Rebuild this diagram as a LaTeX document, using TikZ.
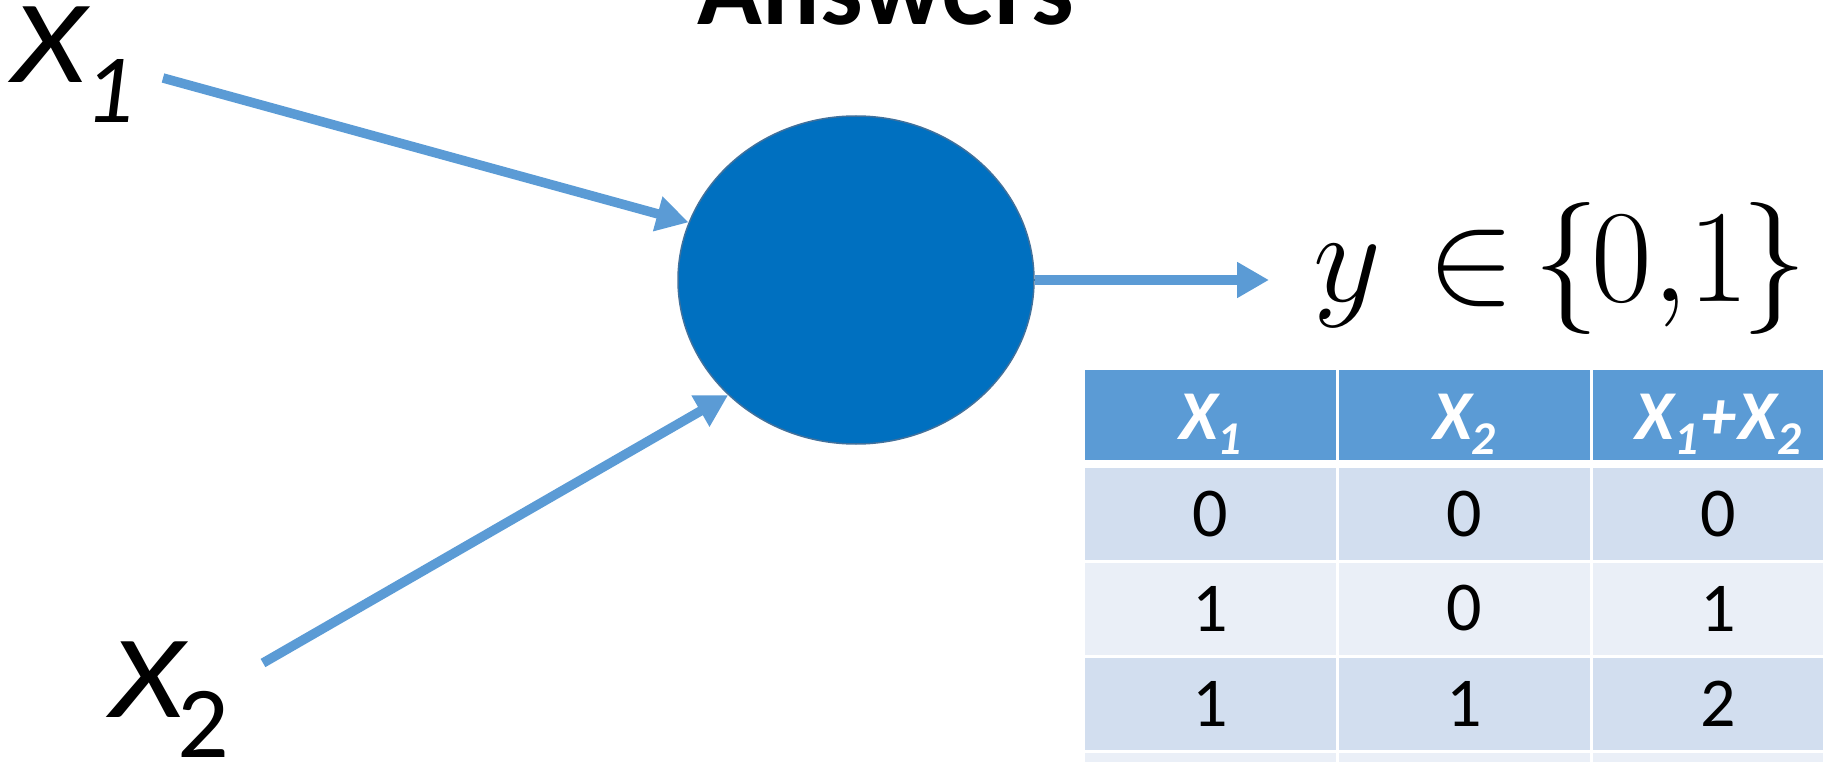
\RequirePackage{fix-cm}
\documentclass[tikz,border=0pt]{standalone}
\usepackage[no-math]{fontspec}
\setmainfont{Carlito}
\usetikzlibrary{arrows.meta,shapes.geometric}
\definecolor{accent}{HTML}{5B9BD5}
\definecolor{nodeblue}{HTML}{0070C0}
\definecolor{nodeedge}{HTML}{41719C}
\definecolor{rowa}{HTML}{D2DEEF}
\definecolor{rowb}{HTML}{EAEFF7}
\newcommand\hsubx[1]{X\raisebox{-15pt}{\fontsize{47}{47}\selectfont #1}}
\newcommand\wideX{\scalebox{1.2}[1]{X}}
\begin{document}
\begin{tikzpicture}[x=1pt,y=-1pt,
  conn/.style={draw=accent, line width=9.5pt, -{Triangle[length=32pt,width=34pt]}},
  cellbox/.style={rectangle, inner sep=0pt, minimum width=251pt, minimum height=92pt},
  headcell/.style={cellbox, fill=accent, minimum height=90pt},
  oddcell/.style={cellbox, fill=rowa, font=\fontsize{70}{70}\selectfont},
  evencell/.style={cellbox, fill=rowb, font=\fontsize{70}{70}\selectfont},
  headtext/.style={text=white, inner sep=0pt, font=\fontsize{70}{70}\selectfont\bfseries\itshape},
  biglabel/.style={anchor=base west, inner sep=0pt, font=\fontsize{118}{118}\selectfont\itshape},
  neuron/.style={ellipse, fill=nodeblue, draw=nodeedge, line width=1.5pt, minimum width=356pt, minimum height=328pt, inner sep=0pt}
]
\useasboundingbox (0,0) rectangle (1823,762);
\clip (0,0) rectangle (1823,762);

% title (cut at top)
\node[anchor=base, inner sep=0pt, font=\fontsize{107}{107}\selectfont\bfseries] (ans) at (886,25) {Answers};

% inputs
\node[biglabel] (x1) at (12,83) {\wideX\kern-1pt\raisebox{-40pt}{\fontsize{98}{98}\selectfont 1}};
\node[biglabel] (x2) at (110,717) {\wideX\kern-6pt\raisebox{-40pt}{\fontsize{102}{102}\selectfont\upshape 2}};
\coordinate (a1s) at (163,78);
\coordinate (a2s) at (263,663);

% neuron
\node[neuron] (e) at (856,280) {};

% output
\coordinate (a3e) at (1269,280);
\node[anchor=base west, inner sep=0pt] (yset) at (1313,301) {\fontsize{132}{132}\selectfont\makebox[114pt][l]{$y$}\makebox[106pt][l]{$\in$}$\{\mkern-1mu 0{,}1\mkern-1mu\}$};

% connectors
\draw[conn] (a1s) -- (e.161);
\draw[conn] (a2s) -- (e.222.6);
\draw[conn] (e.east) -- (a3e);

% table header
\node[headcell] (h1) at (1210.5,415) {};
\node[headcell] (h2) at (1464.5,415) {};
\node[headcell] (h3) at (1718.5,415) {};
\node[headtext] (h1t) at (1210.5,424) {\hsubx{1}};
\node[headtext] (h2t) at (1464.5,424) {\hsubx{2}};
\node[headtext] (h3t) at (1718.5,424) {\hsubx{1}\kern3pt+\kern3pt\hsubx{2}};

% rows
\node[oddcell] (r1c1) at (1210.5,514) {0};
\node[oddcell] (r1c2) at (1464.5,514) {0};
\node[oddcell] (r1c3) at (1718.5,514) {0};
\node[evencell] (r2c1) at (1210.5,608.5) {1};
\node[evencell] (r2c2) at (1464.5,608.5) {0};
\node[evencell] (r2c3) at (1718.5,608.5) {1};
\node[oddcell] (r3c1) at (1210.5,704) {1};
\node[oddcell] (r3c2) at (1464.5,704) {1};
\node[oddcell] (r3c3) at (1718.5,704) {2};
\node[evencell] (r4c1) at (1210.5,799) {};
\node[evencell] (r4c2) at (1464.5,799) {};
\node[evencell] (r4c3) at (1718.5,799) {};
\end{tikzpicture}
\end{document}
